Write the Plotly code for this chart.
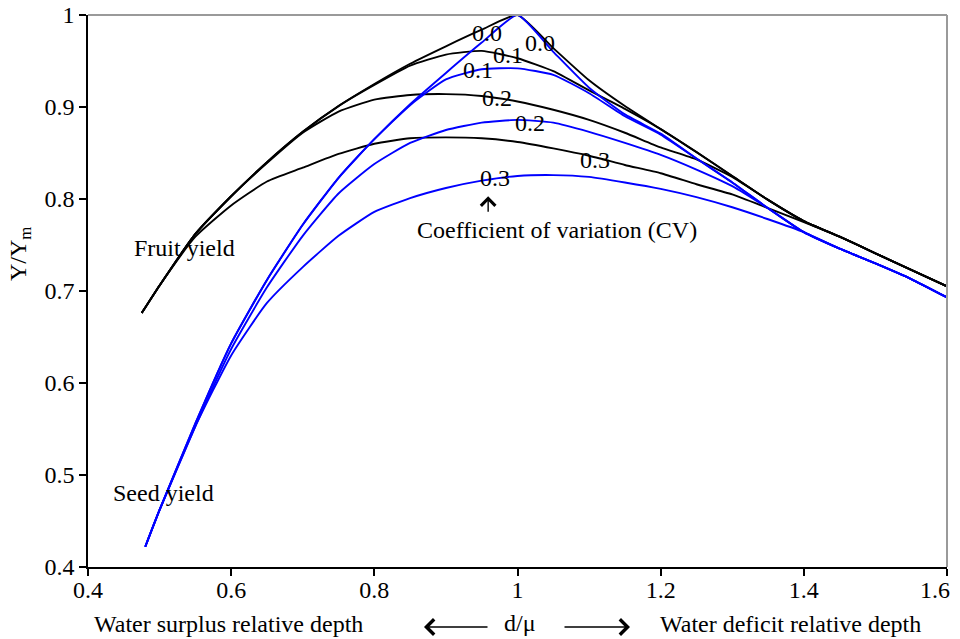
import plotly.graph_objects as go

# Relative irrigation depth d/mu (x) for the fruit and seed yield curves
xf = [0.475, 0.5, 0.55, 0.6, 0.65, 0.7, 0.75, 0.8, 0.85, 0.9, 0.95, 1.0,
      1.05, 1.1, 1.15, 1.2, 1.25, 1.3, 1.35, 1.4, 1.45, 1.5, 1.55, 1.6]
xs = [0.48, 0.5, 0.55, 0.6, 0.65, 0.7, 0.75, 0.8, 0.85, 0.9, 0.95, 1.0,
      1.05, 1.1, 1.15, 1.2, 1.25, 1.3, 1.35, 1.4, 1.45, 1.5, 1.55, 1.6]

# Fruit yield ratio Y/Ym for CV = 0.0, 0.1, 0.2, 0.3
fruit_cv00 = [0.676, 0.706, 0.762, 0.803, 0.840, 0.873, 0.901, 0.925, 0.947, 0.966, 0.984, 1.000,
              0.964, 0.929, 0.901, 0.876, 0.851, 0.825, 0.799, 0.776, 0.759, 0.741, 0.723, 0.705]
fruit_cv01 = [0.676, 0.706, 0.762, 0.803, 0.840, 0.873, 0.901, 0.924, 0.945, 0.957, 0.961, 0.953,
              0.939, 0.918, 0.898, 0.876, 0.851, 0.825, 0.799, 0.776, 0.759, 0.741, 0.723, 0.705]
fruit_cv02 = [0.676, 0.706, 0.762, 0.803, 0.839, 0.872, 0.895, 0.908, 0.913, 0.914, 0.912, 0.906,
              0.897, 0.886, 0.872, 0.856, 0.843, 0.824, 0.799, 0.776, 0.759, 0.741, 0.723, 0.705]
fruit_cv03 = [0.676, 0.706, 0.759, 0.793, 0.819, 0.834, 0.849, 0.860, 0.866, 0.867, 0.866, 0.862,
              0.855, 0.847, 0.837, 0.828, 0.816, 0.805, 0.790, 0.775, 0.759, 0.741, 0.723, 0.705]

# Seed yield ratio Y/Ym for CV = 0.0, 0.1, 0.2, 0.3
seed_cv00 = [0.422, 0.462, 0.556, 0.643, 0.712, 0.772, 0.823, 0.865, 0.903, 0.937, 0.970, 1.000,
             0.960, 0.921, 0.892, 0.871, 0.844, 0.818, 0.790, 0.764, 0.746, 0.730, 0.713, 0.693]
seed_cv01 = [0.422, 0.462, 0.556, 0.643, 0.712, 0.772, 0.823, 0.865, 0.902, 0.930, 0.941, 0.942,
             0.935, 0.915, 0.890, 0.870, 0.844, 0.818, 0.790, 0.764, 0.746, 0.730, 0.713, 0.693]
seed_cv02 = [0.422, 0.462, 0.553, 0.637, 0.704, 0.760, 0.806, 0.838, 0.861, 0.875, 0.883, 0.886,
             0.883, 0.873, 0.861, 0.848, 0.832, 0.814, 0.790, 0.764, 0.746, 0.730, 0.713, 0.693]
seed_cv03 = [0.422, 0.462, 0.553, 0.630, 0.687, 0.726, 0.760, 0.786, 0.801, 0.812, 0.820, 0.825,
             0.826, 0.824, 0.818, 0.811, 0.802, 0.791, 0.778, 0.764, 0.746, 0.730, 0.713, 0.693]

# CV labels placed along the curves
cv_label_text = ["0.0", "0.0", "0.1", "0.1", "0.2", "0.2", "0.3", "0.3"]
cv_label_x = [0.957, 1.031, 0.987, 0.945, 0.971, 1.017, 1.108, 0.968]
cv_label_y = [0.980, 0.970, 0.957, 0.940, 0.910, 0.883, 0.842, 0.823]

x_ticks = [0.4, 0.6, 0.8, 1.0, 1.2, 1.4, 1.6]
y_ticks = [0.4, 0.5, 0.6, 0.7, 0.8, 0.9, 1.0]

FONT = "Liberation Serif, Times New Roman, serif"
FS = 24

# plot-area geometry in pixels, used to place the paper-referenced texts
L, R, T, B = 88, 947, 15, 567
W, H = R - L, B - T


def px_x(p):
    return (p - L) / W


def px_y(p):
    return (B - p) / H


fig = go.Figure()

for ys in [fruit_cv00, fruit_cv01, fruit_cv02, fruit_cv03]:
    fig.add_trace(go.Scatter(x=xf, y=ys, mode="lines",
                             line=dict(color="#000000", width=1.9, shape="spline", smoothing=0.5),
                             showlegend=False, hoverinfo="skip"))
for ys in [seed_cv00, seed_cv01, seed_cv02, seed_cv03]:
    fig.add_trace(go.Scatter(x=xs, y=ys, mode="lines",
                             line=dict(color="#0000FF", width=1.9, shape="spline", smoothing=0.5),
                             showlegend=False, hoverinfo="skip"))

txt = dict(family=FONT, size=FS, color="black")
annotations = []
for t, lx, ly in zip(cv_label_text, cv_label_x, cv_label_y):
    annotations.append(dict(x=lx, y=ly, xref="x", yref="y", text=t, showarrow=False,
                            font=txt, xanchor="center", yanchor="middle"))

# the last x tick label sits flush with the right border
x_tick_text = [f"{v:g}" for v in x_ticks]
last_label = x_tick_text[-1]
x_tick_text[-1] = ""

annotations += [
    dict(x=x_ticks[-1], y=px_y(590), xref="x", yref="paper", text=last_label,
         showarrow=False, font=txt, xanchor="right", yanchor="middle", xshift=5),
    dict(x=0.535, y=0.747, xref="x", yref="y", text="Fruit yield", showarrow=False,
         font=txt, xanchor="center", yanchor="middle"),
    dict(x=0.505, y=0.480, xref="x", yref="y", text="Seed yield", showarrow=False,
         font=txt, xanchor="center", yanchor="middle"),
    dict(x=1.055, y=0.766, xref="x", yref="y", text="Coefficient of variation (CV)",
         showarrow=False, font=txt, xanchor="center", yanchor="middle"),
    # arrow pointing at the CV labels
    dict(x=0.959, y=0.803, xref="x", yref="y", text="", showarrow=True,
         ax=0, ay=17, arrowhead=4, arrowsize=2, arrowwidth=1.4, arrowcolor="black"),
    # bottom explanatory line
    dict(x=px_x(228), y=px_y(624), xref="paper", yref="paper",
         text="Water surplus relative depth", showarrow=False,
         font=txt, xanchor="center", yanchor="middle"),
    dict(x=px_x(520), y=px_y(623), xref="paper", yref="paper",
         text="d/\u03bc", showarrow=False,
         font=txt, xanchor="center", yanchor="middle"),
    dict(x=px_x(790), y=px_y(624), xref="paper", yref="paper",
         text="Water deficit relative depth", showarrow=False,
         font=txt, xanchor="center", yanchor="middle"),
    dict(x=px_x(424), y=px_y(627), xref="paper", yref="paper",
         text="", showarrow=True, ax=65, ay=0, arrowhead=4, arrowsize=2,
         arrowwidth=1.5, arrowcolor="black"),
    dict(x=px_x(630), y=px_y(627), xref="paper", yref="paper",
         text="", showarrow=True, ax=-67, ay=0, arrowhead=4, arrowsize=2,
         arrowwidth=1.5, arrowcolor="black"),
    # y-axis title
    dict(x=px_x(20), y=px_y(254), xref="paper", yref="paper",
         text="Y/Y<sub>m</sub>", textangle=-90, showarrow=False,
         font=txt, xanchor="center", yanchor="middle"),
]

fig.update_layout(
    width=960, height=639,
    margin=dict(l=L, r=960 - R, t=T, b=639 - B, autoexpand=False),
    plot_bgcolor="white", paper_bgcolor="white",
    font=txt,
    annotations=annotations,
    shapes=[
        dict(type="line", xref="paper", yref="paper", x0=0, x1=1, y0=1, y1=1,
             line=dict(color="#9a9a9a", width=2)),
        dict(type="line", xref="paper", yref="paper", x0=1, x1=1, y0=0, y1=1,
             line=dict(color="#9a9a9a", width=2)),
    ],
)

axis_common = dict(showgrid=False, zeroline=False, showline=True, linecolor="black",
                   ticks="outside", ticklen=7, tickwidth=1.6, tickcolor="black",
                   tickfont=txt, automargin=False)
fig.update_xaxes(range=[0.4, 1.6], tickvals=x_ticks, ticktext=x_tick_text,
                 linewidth=2, ticklabelstandoff=-7, **axis_common)
fig.update_yaxes(range=[0.4, 1.0], tickvals=y_ticks, ticktext=[f"{v:g}" for v in y_ticks],
                 linewidth=1.6, **axis_common)

fig.write_html("out.html")
